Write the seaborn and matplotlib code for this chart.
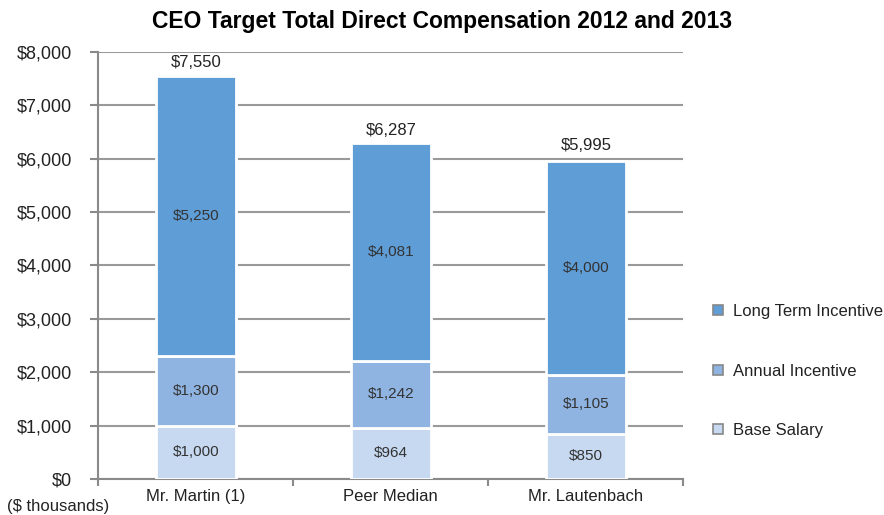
import matplotlib
matplotlib.use("Agg")
import matplotlib.pyplot as plt
import seaborn as sns
import pandas as pd
from matplotlib.lines import Line2D
from matplotlib.ticker import FuncFormatter, FixedLocator

categories = ["Mr. Martin (1)", "Peer Median", "Mr. Lautenbach"]
base_salary = [1000, 964, 850]
annual_incentive = [1300, 1242, 1105]
long_term_incentive = [5250, 4081, 4000]
totals = [7550, 6287, 5995]
series_names = ["Base Salary", "Annual Incentive", "Long Term Incentive"]
colors = ["#c6d9f0", "#8fb4e1", "#5f9dd6"]

sns.set_theme(style="white")
plt.rcParams['font.family'] = ['Liberation Sans', 'DejaVu Sans']

fig = plt.figure(figsize=(8.84, 5.15), dpi=100)
ax = fig.add_axes([0.111, 0.070, 0.662, 0.829])

bottoms = [0] * 3
layers = [base_salary, annual_incentive, long_term_incentive]
for vals, name, col in zip(layers, series_names, colors):
    d = pd.DataFrame({"cat": categories, "v": vals})
    sns.barplot(data=d, x="cat", y="v", ax=ax, color=col, width=0.41,
                bottom=bottoms, edgecolor="white", linewidth=2.0,
                saturation=1, errorbar=None, zorder=3)
    for i, v in enumerate(vals):
        ax.text(i, bottoms[i] + v / 2, f"${v:,}", ha="center", va="center",
                fontsize=11, color="#333333", zorder=4)
    bottoms = [b + v for b, v in zip(bottoms, vals)]

for i, t in enumerate(totals):
    ax.text(i, t + 110, f"${t:,}", ha="center", va="bottom", fontsize=12,
            color="#222222", zorder=4)

ax.set_xlim(-0.5, 2.5)
ax.set_ylim(0, 8000)
ax.set_yticks(range(0, 8001, 1000))
ax.yaxis.set_major_formatter(FuncFormatter(lambda v, p: f"${int(v):,}"))
ax.grid(axis="y", color="#9a9a9a", linewidth=1.5, zorder=0)
ax.set_xlabel("")
ax.set_ylabel("")

for s in ["top", "right"]:
    ax.spines[s].set_visible(False)
for s in ["left", "bottom"]:
    ax.spines[s].set_color("#8a8a8a")
    ax.spines[s].set_linewidth(1.5)

ax.tick_params(axis="y", which="major", length=6, width=1.5, color="#8a8a8a",
               left=True, labelsize=13, labelcolor="#222222", pad=13)
ax.tick_params(axis="x", which="major", length=0, labelsize=12,
               labelcolor="#222222", pad=7)
ax.xaxis.set_minor_locator(FixedLocator([-0.5, 0.5, 1.5, 2.5]))
ax.tick_params(axis="x", which="minor", length=5, width=1.5, color="#8a8a8a",
               bottom=True, direction="out")

fig.text(0.5, 0.958, "CEO Target Total Direct Compensation 2012 and 2013",
         ha="center", va="center", fontsize=16.5, fontweight="bold", color="black")
fig.text(0.008, 0.016, "($ thousands)", ha="left", va="center", fontsize=12,
         color="#222222")

handles = [Line2D([], [], marker="s", linestyle="", markersize=7.5,
                  markerfacecolor=c, markeredgecolor="#888888",
                  markeredgewidth=1.2) for c in colors]
leg = fig.legend(handles[::-1], series_names[::-1], loc="center left",
                 bbox_to_anchor=(0.8025, 0.2796), frameon=False, fontsize=12,
                 labelspacing=2.68, handletextpad=0.4, handlelength=1.0,
                 borderaxespad=0, borderpad=0)
for t in leg.get_texts():
    t.set_color("#222222")

fig.savefig("out.png", dpi=100)
